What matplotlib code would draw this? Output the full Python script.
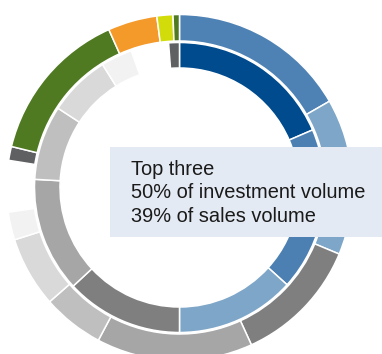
import matplotlib
matplotlib.use("Agg")
import matplotlib.pyplot as plt
from matplotlib.patches import Rectangle

# Inner ring: investment volume shares (%), clockwise from 12 o'clock
inner_values = [18.5, 18.2, 13.3, 13.1, 12.8, 8.3, 6.9, 3.5, 4.2, 1.2]
inner_colors = ["#004b8d", "#4c80b2", "#7ea6c8", "#7f7f7f", "#a6a6a6",
                "#bfbfbf", "#d9d9d9", "#f2f2f2", None, "#5f6062"]

# Outer ring: sales volume shares (%), clockwise from 12 o'clock
outer_values = [16.7, 14.6, 11.9, 14.6, 5.75, 6.6, 2.6, 4.8, 1.3,
                14.5, 4.6, 1.5, 0.6]
outer_colors = ["#4f82b4", "#7ea6c8", "#7f7f7f", "#a6a6a6", "#bfbfbf",
                "#d9d9d9", "#f2f2f2", None, "#5f6062", "#507a22",
                "#f39a2b", "#d3dc0b", "#507a22"]

caption_lines = ["Top three", "50% of investment volume", "39% of sales volume"]

fig = plt.figure(figsize=(3.82, 3.54), dpi=100)
ax = fig.add_axes([0, 0, 1, 1])

center = (179.5, 166.5)


def ring(values, colors, radius, width):
    wedges, _ = ax.pie(values, colors=[c if c else "white" for c in colors],
                       startangle=90, counterclock=False, radius=radius,
                       center=center, frame=True,
                       wedgeprops=dict(width=width, edgecolor="white",
                                       linewidth=1.1))
    for w, c in zip(wedges, colors):
        if c is None:
            w.set_visible(False)


ring(outer_values, outer_colors, 173.0, 26.5)
ring(inner_values, inner_colors, 145.0, 25.5)

ax.set_xlim(0, 382)
ax.set_ylim(0, 354)
ax.set_aspect("equal")
ax.axis("off")

ax.add_patch(Rectangle((110, 117), 280, 90, facecolor="#e4eaf3",
                       edgecolor="none", zorder=5))
baselines = [179, 156.5, 132]
for line, yb in zip(caption_lines, baselines):
    ax.text(131, yb, line, fontsize=14.4, family="Liberation Sans",
            color="#1a1a1a", va="baseline", ha="left", zorder=6)

fig.savefig("out.png", dpi=100)
